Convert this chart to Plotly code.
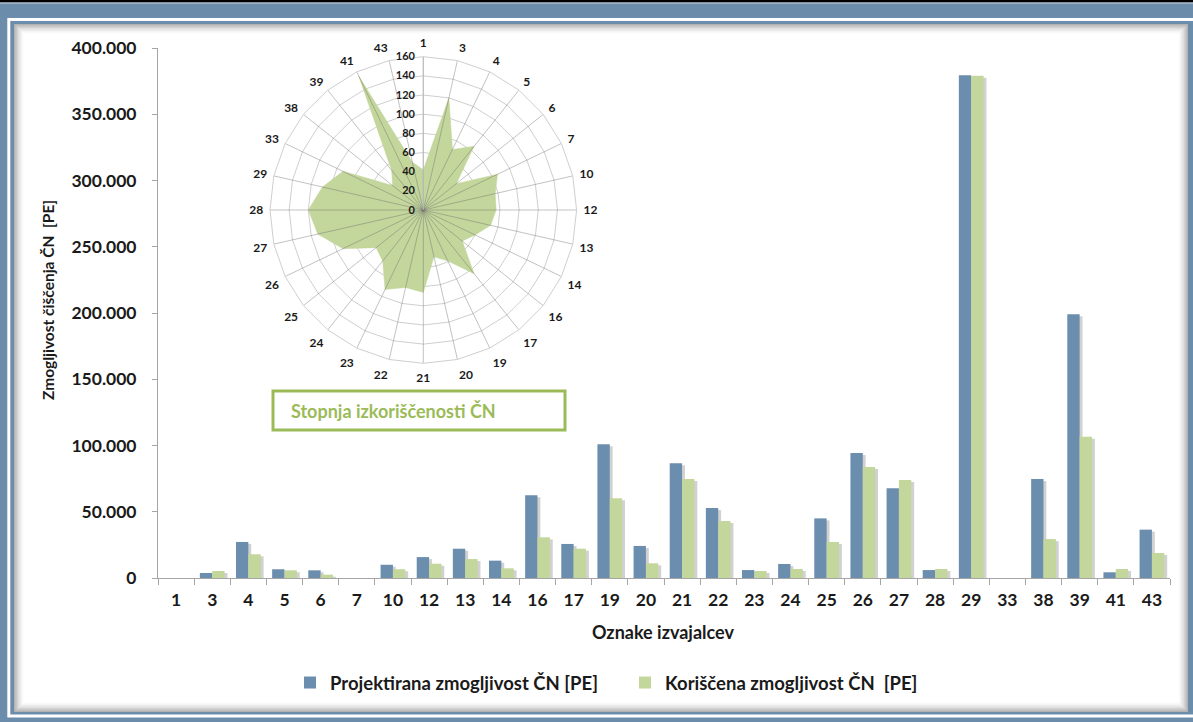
import plotly.graph_objects as go

# oznake izvajalcev (kategorije na osi x in na radarju)
categories = ['1', '3', '4', '5', '6', '7', '10', '12', '13', '14', '16', '17', '19', '20',
              '21', '22', '23', '24', '25', '26', '27', '28', '29', '33', '38', '39', '41', '43']

# Projektirana zmogljivost CN [PE]
projektirana = [0, 3800, 27200, 6600, 5800, 0, 10000, 15800, 22100, 13100, 62400, 25700, 100900, 24200,
                86600, 52800, 6000, 10600, 45000, 94300, 67700, 6000, 379400, 0, 74700, 199000, 4300, 36500]

# Koriscena zmogljivost CN [PE]
koriscena = [0, 5300, 17900, 5800, 2500, 0, 6600, 10800, 14300, 7300, 30700, 22100, 60100, 11100,
             74700, 43000, 5300, 6800, 27200, 83800, 74000, 6800, 379000, 0, 29400, 106600, 6800, 18900]

# Stopnja izkoriscenosti CN (radar)
stopnja = [42, 120, 70, 85, 44, 86, 77, 76, 72, 60, 52, 85, 59, 50,
           86, 83, 92, 68, 63, 93, 113, 120, 108, 93, 41, 53, 155, 51]

yticks = [0, 50000, 100000, 150000, 200000, 250000, 300000, 350000, 400000]
radial_ticks = [0, 20, 40, 60, 80, 100, 120, 140, 160]

BLUE = '#6c8eae'
GREEN = '#c3d69b'
DGREEN = '#9bbb59'
FRAME = '#6b8cab'
TXT = '#1a1a1a'
FONT = 'Lato'

W, H = 1193, 722
L, R, T, B = 158, 23, 48, 144
PW = W - L - R
PH = H - T - B


def px(x):
    return (x - L) / PW


def py(y):
    return (H - B - y) / PH


def rect(x0, y0, x1, y1, **kw):
    d = dict(type='rect', xref='paper', yref='paper', layer='below',
             x0=px(x0), x1=px(x1), y0=py(y0), y1=py(y1))
    d.update(kw)
    return d


bw = 0.342
sh = 0.08
shadow_b = [max(v - 1500, 0) for v in projektirana]
shadow_g = [max(v - 1500, 0) for v in koriscena]

fig = go.Figure()

# sence stolpcev
fig.add_trace(go.Bar(x=categories, y=shadow_b, offset=-bw + sh, width=bw,
                     marker=dict(color='rgba(0,0,0,0.18)', line=dict(width=0)),
                     showlegend=False, hoverinfo='skip'))
fig.add_trace(go.Bar(x=categories, y=shadow_g, offset=sh, width=bw,
                     marker=dict(color='rgba(0,0,0,0.18)', line=dict(width=0)),
                     showlegend=False, hoverinfo='skip'))

fig.add_trace(go.Bar(x=categories, y=projektirana, offset=-bw, width=bw,
                     name='Projektirana zmogljivost ČN [PE]',
                     marker=dict(color=BLUE, line=dict(width=0))))
fig.add_trace(go.Bar(x=categories, y=koriscena, offset=0, width=bw,
                     name='Koriščena zmogljivost ČN  [PE]',
                     marker=dict(color=GREEN, line=dict(width=0))))

# radar
fig.add_trace(go.Scatterpolar(r=stopnja + [stopnja[0]], theta=categories + [categories[0]],
                              fill='toself', fillcolor=GREEN, mode='lines',
                              line=dict(color=GREEN, width=0.5),
                              showlegend=False, hoverinfo='skip'))
# zarki mreze nad ploskvijo
sp_theta, sp_r = [], []
for c in categories:
    sp_theta += [c, c, None]
    sp_r += [0, radial_ticks[-1], None]
fig.add_trace(go.Scatterpolar(r=sp_r, theta=sp_theta, mode='lines',
                              line=dict(color='rgba(110,110,110,0.42)', width=1),
                              showlegend=False, hoverinfo='skip', connectgaps=False))

shapes = [
    rect(0, 0, W, 2.5, fillcolor='black', line=dict(width=0)),
    rect(0, 2.5, W, 3.5, fillcolor='#cfd7df', line=dict(width=0)),
    rect(8.8, 19.6, W + 20, 716, line=dict(color='white', width=3)),
    rect(14, 24, 1188, 712, fillcolor='white', line=dict(width=0)),
]
# notranja senca okvirja
for i in range(7):
    a = 0.30 * (1 - i / 7) ** 1.6
    shapes.append(rect(14 + i * 1.4 + 0.7, 24 + i * 1.4 + 0.7, 1188 - i * 1.4 - 0.7, 712 - i * 1.4 - 0.7,
                       line=dict(color='rgba(0,0,0,%.3f)' % a, width=1.4)))
shapes.append(rect(273, 391, 565, 430, fillcolor='white', line=dict(color=DGREEN, width=3)))

annotations = [
    dict(text='Zmogljivost čiščenja ČN  [PE]', x=px(48), y=py(300), xref='paper', yref='paper',
         xanchor='center', yanchor='middle',
         textangle=-90, showarrow=False, font=dict(family=FONT, size=15.5, color=TXT, weight='bold')),
    dict(text='Oznake izvajalcev', x=px(663), y=py(632), xref='paper', yref='paper',
         xanchor='center', yanchor='middle',
         showarrow=False, font=dict(family=FONT, size=18, color=TXT, weight='bold')),
    dict(text='Stopnja izkoriščenosti ČN', x=px(289), y=py(411), xref='paper', yref='paper',
         xanchor='left', yanchor='middle', showarrow=False,
         font=dict(family=FONT, size=18, color=DGREEN, weight='bold')),
]

fig.update_layout(
    width=W, height=H,
    margin=dict(l=L, r=R, t=T, b=B, pad=0),
    paper_bgcolor=FRAME,
    plot_bgcolor='rgba(0,0,0,0)',
    barmode='overlay',
    separators=',.',
    font=dict(family=FONT, color=TXT),
    shapes=shapes,
    annotations=annotations,
    xaxis=dict(type='category', categoryarray=categories, showgrid=False, zeroline=False,
               showline=True, linecolor='#a6a6a6', linewidth=1,
               ticks='outside', tickson='boundaries', ticklen=6, tickcolor='#a6a6a6',
               tickfont=dict(family=FONT, size=17.5, color=TXT, weight='bold'),
               ticklabelstandoff=6),
    yaxis=dict(range=[0, 400000], tickvals=yticks, tickformat=',d', showgrid=False, zeroline=False,
               showline=True, linecolor='#a6a6a6', linewidth=1,
               ticks='outside', ticklen=5, tickcolor='#a6a6a6',
               tickfont=dict(family=FONT, size=17.5, color=TXT, weight='bold'),
               ticklabelstandoff=12),
    legend=dict(orientation='h', x=px(290), y=py(664), xanchor='left', yanchor='top',
                bgcolor='rgba(0,0,0,0)', font=dict(family=FONT, size=18.5, color=TXT, weight='bold'),
                itemwidth=30, entrywidth=290, traceorder='normal'),
    polar=dict(
        domain=dict(x=[px(270), px(576.6)], y=[py(363.3), py(56.7)]),
        bgcolor='rgba(0,0,0,0)',
        gridshape='linear',
        radialaxis=dict(range=[0, 160], tickvals=radial_ticks, angle=90, tickangle=90,
                        side='counterclockwise', showline=True, linecolor='#bdbdbd',
                        gridcolor='#cfcfcf', ticks='outside', ticklen=4, tickcolor='rgba(0,0,0,0)',
                        tickfont=dict(family=FONT, size=11, color=TXT, weight='bold')),
        angularaxis=dict(type='category', categoryarray=categories, direction='clockwise',
                         rotation=90, showgrid=False, showline=True, linecolor='#cfcfcf',
                         ticks='outside', ticklen=4, tickcolor='rgba(0,0,0,0)',
                         tickfont=dict(family=FONT, size=12, color=TXT, weight='bold')),
    ),
)

fig.write_html('out.html', config=dict(displayModeBar=False),
               post_script="document.body.style.margin='0';document.body.style.overflow='hidden';")
